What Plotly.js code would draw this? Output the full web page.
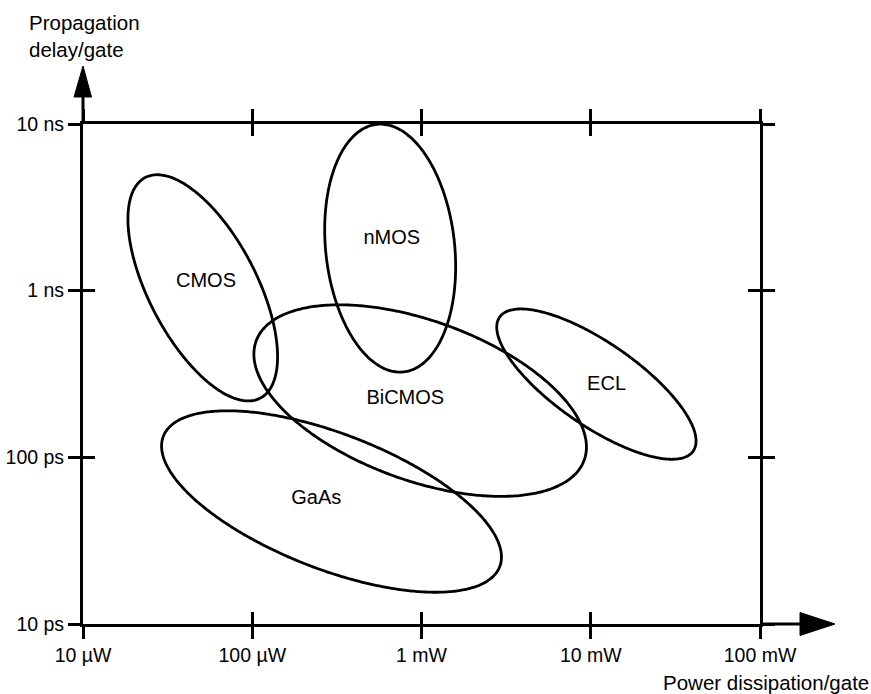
<!DOCTYPE html>
<html>
<head>
<meta charset="utf-8">
<script src="https://cdn.plot.ly/plotly-3.0.1.min.js"></script>
<style>html,body{margin:0;padding:0;background:#fff;}#chart{width:871px;height:694px;}</style>
</head>
<body>
<div id="chart"></div>
<script>
// ---- data ----
const techNames       = ['CMOS', 'nMOS', 'BiCMOS', 'GaAs', 'ECL'];
// centre of each technology region (power in mW, delay in ns)
const centrePower_mW  = [0.051, 0.653, 0.982, 0.294, 10.8];
const centreDelay_ns  = [1.04, 1.80, 0.219, 0.0543, 0.275];
// half-extent of each region along its long / short axis, in decades
const halfMajor_dec   = [0.744, 0.747, 1.033, 1.068, 0.699];
const halfMinor_dec   = [0.32, 0.381, 0.478, 0.405, 0.248];
// tilt of the long axis (degrees, log-log space)
const tilt_deg        = [-63, -84, -20.4, -21.6, -35.2];
// label positions
const labelPower_mW   = [0.0533, 0.668, 0.802, 0.239, 12.4];
const labelDelay_ns   = [1.13, 2.03, 0.223, 0.056, 0.272];
// axes
const powerTicks      = [0.01, 0.1, 1, 10, 100];
const powerTickText   = ['10 \u00b5W', '100 \u00b5W', '1 mW', '10 mW', '100 mW'];
const delayTicks      = [0.01, 0.1, 1, 10];
const delayTickText   = ['10 ps', '100 ps', '1 ns', '10 ns'];

// ---- build traces ----
const FONT = 'Liberation Sans, Arial, Helvetica, sans-serif';
const traces = [];
const N = 240;
for (let k = 0; k < techNames.length; k++) {
  const lx0 = Math.log10(centrePower_mW[k]);
  const ly0 = Math.log10(centreDelay_ns[k]);
  const th = tilt_deg[k] * Math.PI / 180;
  const xs = [], ys = [];
  for (let i = 0; i <= N; i++) {
    const t = 2 * Math.PI * i / N;
    const u = halfMajor_dec[k] * Math.cos(t);
    const v = halfMinor_dec[k] * Math.sin(t);
    xs.push(Math.pow(10, lx0 + u * Math.cos(th) - v * Math.sin(th)));
    ys.push(Math.pow(10, ly0 + u * Math.sin(th) + v * Math.cos(th)));
  }
  traces.push({
    type: 'scatter', mode: 'lines', x: xs, y: ys, name: techNames[k],
    line: {color: '#000', width: 2.8, shape: 'spline', smoothing: 0.6},
    hoverinfo: 'skip', showlegend: false, cliponaxis: false
  });
}
traces.push({
  type: 'scatter', mode: 'text', x: labelPower_mW, y: labelDelay_ns, text: techNames,
  textposition: 'middle center', textfont: {family: FONT, size: 20, color: '#000'},
  showlegend: false, hoverinfo: 'skip', cliponaxis: false
});
// empty trace to register the overlay axes (crossing ticks)
traces.push({type: 'scatter', x: [], y: [], xaxis: 'x2', yaxis: 'y2', showlegend: false});

// plot area in pixels
const L = 83, R = 111, T = 124, B = 70, W = 871, H = 694;
const pw = W - L - R, ph = H - T - B;
const px = v => (v - L) / pw;          // pixel -> paper x
const py = v => (H - B - v) / ph;      // pixel -> paper y

const axisCommon = {
  type: 'log', showgrid: false, zeroline: false, showline: true,
  linecolor: '#000', linewidth: 3, tickcolor: '#000', tickwidth: 3, ticklen: 12,
  tickmode: 'array', mirror: 'ticks', fixedrange: true
};

const layout = {
  width: W, height: H,
  margin: {l: L, r: R, t: T, b: B, pad: 0},
  paper_bgcolor: '#fff', plot_bgcolor: '#fff',
  font: {family: FONT, size: 19.5, color: '#000'},
  showlegend: false,
  xaxis: Object.assign({}, axisCommon, {
    range: [-2, 2], ticks: 'outside', tickvals: powerTicks, ticktext: powerTickText,
    tickfont: {family: FONT, size: 19.5, color: '#000'}
  }),
  yaxis: Object.assign({}, axisCommon, {
    range: [-2, 1], ticks: 'outside', tickvals: delayTicks, ticktext: delayTickText,
    tickfont: {family: FONT, size: 19.5, color: '#000'}
  }),
  xaxis2: Object.assign({}, axisCommon, {
    range: [-2, 2], ticks: 'inside', tickvals: powerTicks, showticklabels: false,
    overlaying: 'x', anchor: 'y2'
  }),
  yaxis2: Object.assign({}, axisCommon, {
    range: [-2, 1], ticks: 'inside', tickvals: delayTicks, showticklabels: false,
    overlaying: 'y', anchor: 'x2'
  }),
  shapes: [
    // vertical axis arrow
    {type: 'line', xref: 'paper', yref: 'paper', x0: 0, x1: 0, y0: 1, y1: py(96),
     line: {color: '#000', width: 3}},
    {type: 'path', xref: 'paper', yref: 'paper',
     path: 'M ' + px(L - 9) + ' ' + py(97) + ' L ' + px(L + 8.5) + ' ' + py(97) + ' L ' + px(L) + ' ' + py(66) + ' Z',
     fillcolor: '#000', line: {color: '#000', width: 1}},
    // horizontal axis arrow
    {type: 'line', xref: 'paper', yref: 'paper', x0: 1, x1: px(801), y0: 0, y1: 0,
     line: {color: '#000', width: 3}},
    {type: 'path', xref: 'paper', yref: 'paper',
     path: 'M ' + px(800) + ' ' + py(612.5) + ' L ' + px(800) + ' ' + py(635.5) + ' L ' + px(835) + ' ' + py(624) + ' Z',
     fillcolor: '#000', line: {color: '#000', width: 1}}
  ],
  annotations: [
    {xref: 'paper', yref: 'paper', x: px(27), y: py(9), xanchor: 'left', yanchor: 'top',
     align: 'left', showarrow: false, text: 'Propagation<br>delay/gate',
     font: {family: FONT, size: 20.5, color: '#000'}},
    {xref: 'paper', yref: 'paper', x: px(871), y: py(683), xanchor: 'right', yanchor: 'middle',
     showarrow: false, text: 'Power dissipation/gate',
     font: {family: FONT, size: 20.5, color: '#000'}}
  ]
};

Plotly.newPlot('chart', traces, layout, {displayModeBar: false, staticPlot: true});
</script>
</body>
</html>
